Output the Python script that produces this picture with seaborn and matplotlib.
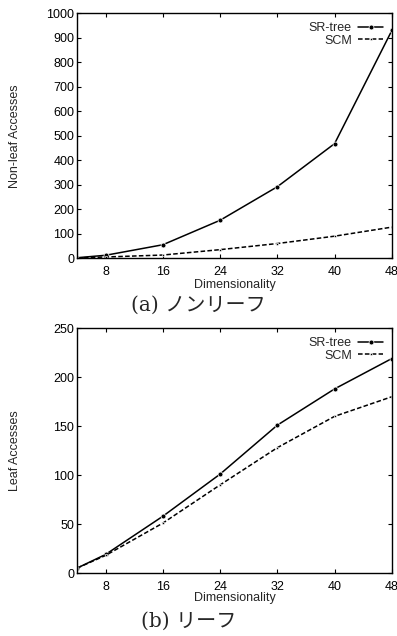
import matplotlib
matplotlib.use("Agg")
import matplotlib.pyplot as plt
import seaborn as sns
import pandas as pd

dims = [4, 8, 16, 24, 32, 40, 48]
nonleaf_srtree = [2, 12, 55, 155, 292, 468, 930]
nonleaf_scm = [1, 5, 13, 35, 60, 90, 127]
leaf_srtree = [5, 19, 58, 101, 151, 188, 219]
leaf_scm = [5, 18, 51, 90, 128, 160, 180]
series_names = ["SR-tree", "SCM"]
xticks = [8, 16, 24, 32, 40, 48]

sns.set_theme(style="white")
plt.rcParams['font.family'] = ['Liberation Sans', 'DejaVu Sans']

fig = plt.figure(figsize=(3.97, 6.36), dpi=100)
ax1 = fig.add_axes([0.194, 0.594, 0.793, 0.385])
ax2 = fig.add_axes([0.194, 0.099, 0.793, 0.385])


def draw(ax, sr, scm, ylabel, ymax, ystep, xlab_y):
    df = pd.DataFrame({
        "Dimensionality": dims * 2,
        "val": sr + scm,
        "series": [series_names[0]] * len(dims) + [series_names[1]] * len(dims),
    })
    sns.lineplot(data=df, x="Dimensionality", y="val", hue="series", style="series",
                 palette=["black", "black"], dashes=[(None, None), (3, 1.5)],
                 markers=["o", "."], markersize=3.5, markeredgewidth=0.5,
                 linewidth=1.1, ax=ax)
    ax.set_xlim(4, 48)
    ax.set_ylim(0, ymax)
    ax.set_xticks(xticks)
    ax.set_yticks(list(range(0, ymax + 1, ystep)))
    ax.tick_params(direction="in", length=3, width=0.8, labelsize=9, colors="black",
                   top=True, right=True, bottom=True, left=True, pad=2)
    ax.tick_params(axis="x", pad=5.5)
    for s in ax.spines.values():
        s.set_color("black")
        s.set_linewidth(1.0)
    ax.set_xlabel("Dimensionality", fontsize=9, va="center")
    ax.xaxis.set_label_coords(0.5, xlab_y)
    ax.set_ylabel(ylabel, fontsize=9, va="center")
    ax.yaxis.set_label_coords(-0.197, 0.5)
    leg = ax.legend(loc="upper right", frameon=False, markerfirst=False, fontsize=9,
                    handlelength=2.0, borderaxespad=0.3, labelspacing=0.05, handletextpad=0.5)
    leg._legend_box.align = "right"


draw(ax1, nonleaf_srtree, nonleaf_scm, "Non-leaf Accesses", 1000, 100, -0.108)
draw(ax2, leaf_srtree, leaf_scm, "Leaf Accesses", 250, 50, -0.1)

cap_family = ['DejaVu Serif', 'Noto Sans CJK JP']
fig.text(198 / 397, 1 - 305 / 636, "(a) ノンリーフ", ha="center", va="center", fontsize=14.5,
         family=cap_family)
fig.text(189 / 397, 1 - 621 / 636, "(b) リーフ", ha="center", va="center", fontsize=14.5,
         family=cap_family)

fig.savefig("out.png", dpi=100, facecolor="white")
